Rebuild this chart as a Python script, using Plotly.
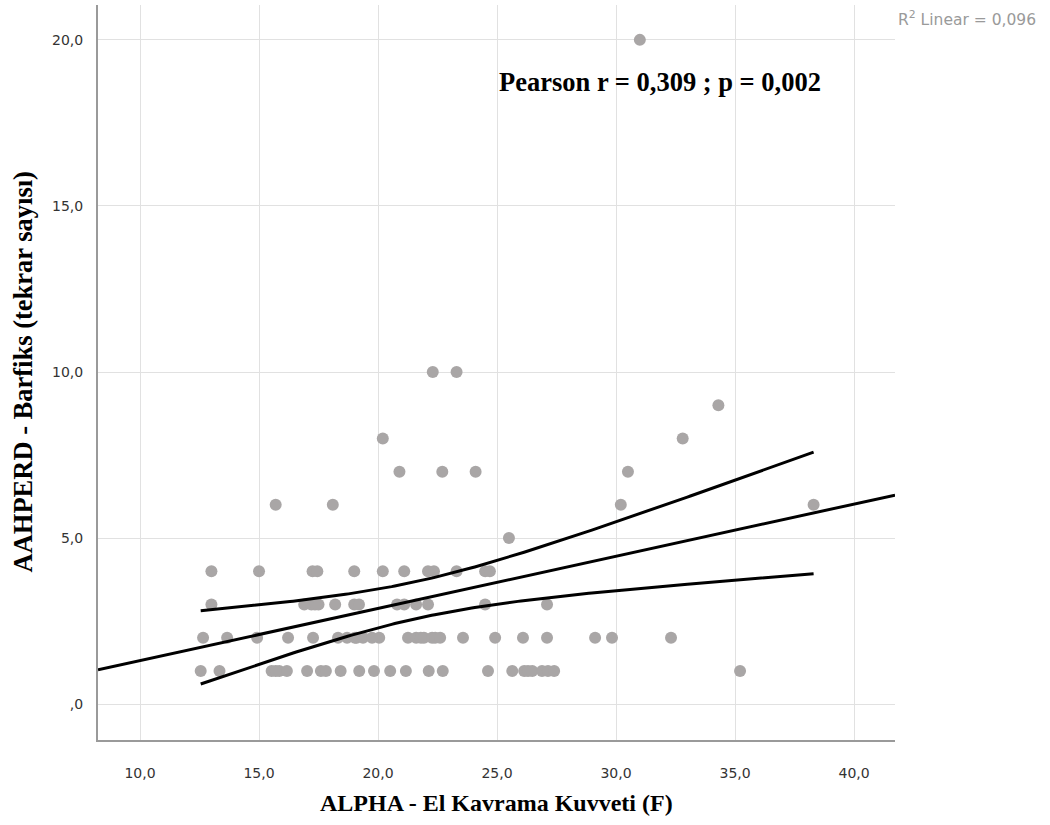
import numpy as np
import plotly.graph_objects as go

# --- data (x = grip strength, grouped by pull-up count) ---
x_at_y1 = [12.55, 13.34, 15.53, 15.7, 15.85, 16.17, 17.02, 17.60, 17.81, 18.43, 19.21, 19.83,
           20.51, 21.17, 22.13, 22.72, 24.62, 25.64, 26.14, 26.3, 26.48, 26.89, 27.14, 27.40, 35.21]
x_at_y2 = [12.65, 13.66, 14.92, 16.22, 17.27, 18.32, 18.70, 19.03, 19.1, 19.37, 19.75, 20.05,
           21.26, 21.60, 21.8, 21.93, 22.27, 22.4, 22.61, 23.57, 24.92, 26.09, 27.10, 29.12,
           29.83, 32.31]
x_at_y3 = [13.0, 16.9, 17.2, 17.35, 17.5, 18.2, 19.0, 19.2, 20.8, 21.1, 21.6, 22.1, 24.5, 27.1]
x_at_y4 = [13.0, 15.0, 17.25, 17.45, 19.0, 20.2, 21.1, 22.1, 22.35, 23.3, 24.5, 24.7]
x_at_y5 = [25.5]
x_at_y6 = [15.7, 18.1, 30.2, 38.3]
x_at_y7 = [20.9, 22.7, 24.1, 30.5]
x_at_y8 = [20.2, 32.8]
x_at_y9 = [34.3]
x_at_y10 = [22.3, 23.3]
x_at_y20 = [31.0]

rows = {1: x_at_y1, 2: x_at_y2, 3: x_at_y3, 4: x_at_y4, 5: x_at_y5, 6: x_at_y6,
        7: x_at_y7, 8: x_at_y8, 9: x_at_y9, 10: x_at_y10, 20: x_at_y20}

x_tick_vals = [10, 15, 20, 25, 30, 35, 40]
x_tick_text = ["10,0", "15,0", "20,0", "25,0", "30,0", "35,0", "40,0"]
y_tick_vals = [0, 5, 10, 15, 20]
y_tick_text = [",0", "5,0", "10,0", "15,0", "20,0"]

x_title = "ALPHA - El Kavrama Kuvveti (F)"
y_title = "AAHPERD - Barfiks (tekrar sayısı)"
stat_text = "Pearson r = 0,309 ; p = 0,002"
r2_text = "R<sup>2</sup> Linear = 0,096"

x_range = [8.235, 41.72]
y_range = [-1.08, 21.05]

xs = np.array([x for yv, lst in rows.items() for x in lst], dtype=float)
ys = np.array([yv for yv, lst in rows.items() for _ in lst], dtype=float)

# linear fit and 95% mean confidence interval
n = len(xs)
b1, b0 = np.polyfit(xs, ys, 1)
resid = ys - (b0 + b1 * xs)
s = np.sqrt(np.sum(resid ** 2) / (n - 2))
xm = xs.mean()
sxx = np.sum((xs - xm) ** 2)
tval = 1.9866
xg = np.linspace(xs.min(), xs.max(), 200)
yg = b0 + b1 * xg
se = s * np.sqrt(1.0 / n + (xg - xm) ** 2 / sxx)
xl = np.array(x_range)
yl = b0 + b1 * xl

fig = go.Figure()
fig.add_trace(go.Scatter(x=xs, y=ys, mode="markers",
                         marker=dict(size=12, color="#a9a6a6", line=dict(width=0)),
                         showlegend=False, hoverinfo="skip"))
fig.add_trace(go.Scatter(x=xl, y=yl, mode="lines", line=dict(color="black", width=3),
                         showlegend=False, hoverinfo="skip"))
fig.add_trace(go.Scatter(x=xg, y=yg + tval * se, mode="lines", line=dict(color="black", width=3),
                         showlegend=False, hoverinfo="skip"))
fig.add_trace(go.Scatter(x=xg, y=yg - tval * se, mode="lines", line=dict(color="black", width=3),
                         showlegend=False, hoverinfo="skip"))

tick_font = dict(family="DejaVu Sans, Verdana, sans-serif", size=14, color="#333333")
fig.update_xaxes(range=x_range, tickvals=x_tick_vals, ticktext=x_tick_text,
                 showgrid=True, gridcolor="#e1e1e1", gridwidth=1,
                 showline=True, linecolor="#9a9a9a", linewidth=2,
                 zeroline=False, ticks="", tickfont=tick_font, ticklabelstandoff=19)
fig.update_yaxes(range=y_range, tickvals=y_tick_vals, ticktext=y_tick_text,
                 showgrid=True, gridcolor="#e1e1e1", gridwidth=1,
                 showline=True, linecolor="#9a9a9a", linewidth=2,
                 zeroline=False, ticks="", tickfont=tick_font, ticklabelstandoff=10)

fig.add_annotation(x=25.0, y=18.73, xref="x", yref="y", text="<b>" + stat_text + "</b>",
                   showarrow=False, xanchor="left", yanchor="middle",
                   font=dict(family="Liberation Serif, Times New Roman, serif", size=26.5, color="black"))
fig.add_annotation(x=1.0, y=1.0, xref="paper", yref="paper", xshift=1, yshift=-13,
                   text=r2_text, showarrow=False, xanchor="left", yanchor="middle",
                   font=dict(family="DejaVu Sans, Verdana, sans-serif", size=15.5, color="#9a9a9a"))
fig.add_annotation(x=0.5, y=0, xref="paper", yref="paper", yshift=-63, text="<b>" + x_title + "</b>",
                   showarrow=False, xanchor="center", yanchor="middle",
                   font=dict(family="Liberation Serif, Times New Roman, serif", size=24, color="black"))
fig.add_annotation(x=0, y=0.5, xref="paper", yref="paper", xshift=-76, text="<b>" + y_title + "</b>",
                   showarrow=False, xanchor="center", yanchor="middle", textangle=-90,
                   font=dict(family="Liberation Serif, Times New Roman, serif", size=26.5, color="black"))

fig.update_layout(width=1050, height=825, margin=dict(l=98, r=155, t=5, b=85),
                  plot_bgcolor="white", paper_bgcolor="white")

fig.write_html("out.html")
